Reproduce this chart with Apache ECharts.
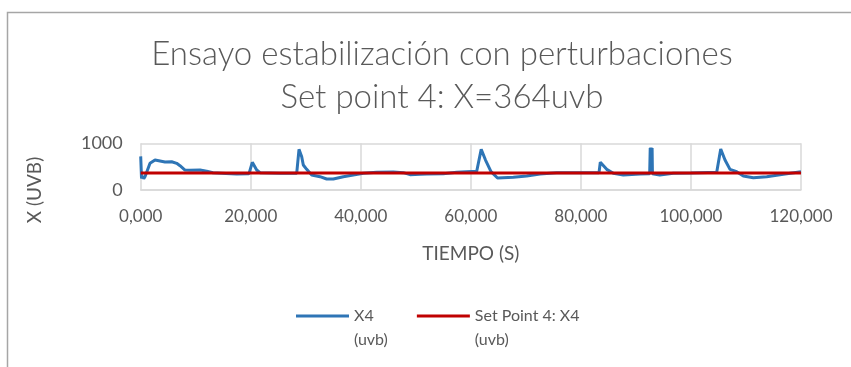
<!DOCTYPE html>
<html>
<head>
<meta charset="utf-8">
<script src="https://cdn.jsdelivr.net/npm/echarts@6/dist/echarts.min.js"></script>
<style>
html,body{margin:0;padding:0;background:#fff;}
#c{width:851px;height:367px;}
</style>
</head>
<body>
<div id="c"></div>
<script>
// ---- data ----
const titleLines = ['Ensayo estabilización con perturbaciones', 'Set point 4: X=364uvb'];
const xTickLabels = ['0,000', '20,000', '40,000', '60,000', '80,000', '100,000', '120,000'];
const yTickLabels = ['0', '1000'];
const seriesNames = ['X4\n(uvb)', 'Set Point 4: X4\n(uvb)'];
const x4Time = [0, 150, 350, 550, 800, 1690, 2599, 3508, 4416, 5634, 6543, 7142, 8051, 8960, 10777, 11995, 13140, 15500, 17447, 19682,
  20282, 21082, 21681, 25316, 28351, 28769, 29260, 29551, 30169, 31077, 32586, 33803, 35003, 36820, 38638, 40455, 42890, 45907,
  47724, 48942, 50759, 51977, 54994, 57429, 61064, 61882, 62664, 63664, 64845, 67716, 70151, 72568, 75603, 80000, 83291, 83527,
  84690, 85889, 87707, 90742, 92500, 92600, 92650, 92700, 92760, 92820, 92880, 92940, 93000, 94335, 96795, 100000, 104682, 105409,
  106190, 107099, 108317, 109516, 111334, 113769, 116786, 120000];
const x4Value = [720, 250, 300, 240, 290, 571, 642, 621, 600, 606, 571, 521, 428, 421, 428, 400, 371, 355, 340, 350,
  593, 428, 371, 357, 357, 871, 713, 535, 442, 321, 285, 235, 235, 285, 321, 357, 378, 385,
  371, 328, 336, 343, 350, 378, 400, 871, 642, 393, 257, 271, 300, 343, 371, 368, 371, 593,
  442, 357, 321, 343, 350, 900, 360, 910, 350, 905, 355, 900, 350, 321, 357, 362, 378, 878,
  642, 442, 393, 300, 264, 285, 336, 390];
const spTime = [0, 120000];
const spValue = [364, 364];

const txt = '#595959';
const font = 'Lato, "Open Sans", sans-serif';
const chart = echarts.init(document.getElementById('c'));
chart.setOption({
  animation: false,
  backgroundColor: '#fff',
  title: {
    text: titleLines.join('\n'),
    left: 437,
    top: 28,
    textAlign: 'center',
    textStyle: { color: txt, fontFamily: font, fontWeight: 300, fontSize: 33, lineHeight: 43 }
  },
  graphic: [
    { type: 'rect', shape: { x: 7.5, y: 12.5, width: 900, height: 400 }, style: { fill: 'none', stroke: '#a6a6a6', lineWidth: 1.5 }, silent: true },
    { type: 'text', x: 35, y: 190, rotation: Math.PI / 2, style: { text: 'X (UVB)', fill: txt, font: '19px ' + font, align: 'center', verticalAlign: 'middle' } }
  ],
  legend: {
    left: 291,
    top: 275,
    itemWidth: 53,
    itemHeight: 3,
    itemGap: 29,
    textStyle: { color: txt, fontFamily: font, fontSize: 16, lineHeight: 24 },
    formatter: name => '\n' + name,
    data: [
      { name: seriesNames[0], icon: 'rect' },
      { name: seriesNames[1], icon: 'rect' }
    ]
  },
  grid: { left: 140.7, right: 50, top: 143.3, bottom: 177, containLabel: false, outerBoundsMode: 'none' },
  xAxis: {
    type: 'value', min: 0, max: 120000, interval: 20000,
    name: 'TIEMPO (S)', nameLocation: 'middle', nameGap: 54,
    nameTextStyle: { color: txt, fontFamily: font, fontSize: 19 },
    axisLine: { lineStyle: { color: '#d9d9d9', width: 1.5 } },
    axisTick: { show: false },
    splitLine: { show: true, lineStyle: { color: '#d9d9d9', width: 1.5 } },
    axisLabel: { color: txt, fontFamily: font, fontSize: 17, margin: 18, showMaxLabel: true,
      formatter: v => xTickLabels[Math.round(v / 20000)] }
  },
  yAxis: {
    type: 'value', min: 0, max: 1000, interval: 1000,
    axisLine: { show: false },
    axisTick: { show: false },
    splitLine: { show: true, lineStyle: { color: '#d9d9d9', width: 1.5 } },
    axisLabel: { color: txt, fontFamily: font, fontSize: 18, margin: 18,
      formatter: v => yTickLabels[Math.round(v / 1000)] }
  },
  series: [
    { name: seriesNames[0], type: 'line', symbol: 'none', smooth: false,
      lineStyle: { color: '#2e75b6', width: 3 }, itemStyle: { color: '#2e75b6' },
      data: x4Time.map((t, i) => [t, x4Value[i]]) },
    { name: seriesNames[1], type: 'line', symbol: 'none',
      lineStyle: { color: '#c00000', width: 3 }, itemStyle: { color: '#c00000' },
      data: spTime.map((t, i) => [t, spValue[i]]) }
  ]
});
</script>
</body>
</html>
